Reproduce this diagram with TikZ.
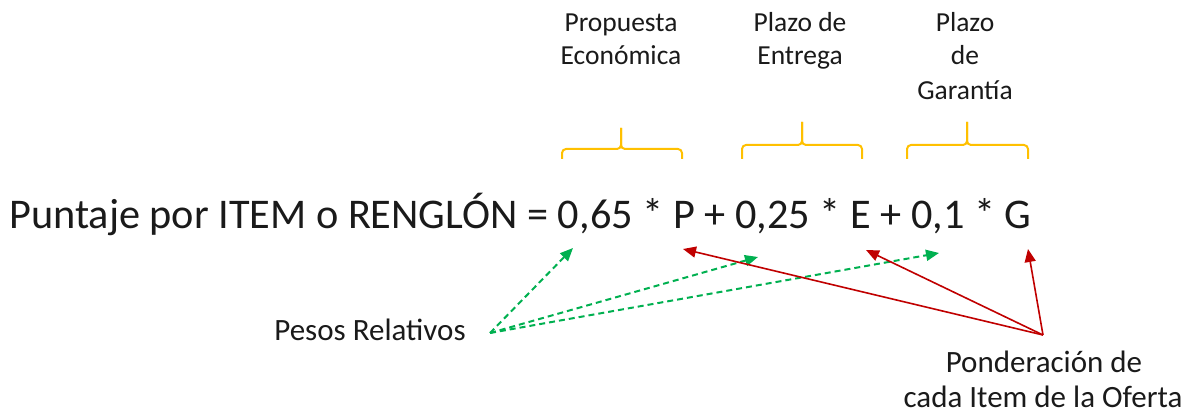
\documentclass[tikz,border=0pt]{standalone}
\usepackage{fontspec}
\setmainfont{Carlito}
\usetikzlibrary{arrows.meta}
\definecolor{gold}{HTML}{FFC000}
\definecolor{pgreen}{HTML}{00B050}
\definecolor{pred}{HTML}{C00000}
\definecolor{txt}{HTML}{1A1A1A}
\begin{document}
\begin{tikzpicture}[x=1pt,y=-1pt,
  toplbl/.style={inner sep=0pt, anchor=base, text=txt, font=\fontsize{27.5}{33}\selectfont},
  sidelbl/.style={inner sep=0pt, anchor=base, text=txt, font=\fontsize{31}{36}\selectfont},
  mainlbl/.style={inner sep=0pt, anchor=base west, text=txt, font=\fontsize{42.3}{49}\selectfont},
  bracepath/.style={draw=gold, line width=2pt, rounded corners=4pt},
  weightarrow/.style={draw=pgreen, line width=2pt, dash pattern=on 6pt off 4pt, -{Triangle[length=13pt,width=11pt]}},
  itemarrow/.style={draw=pred, line width=1.6pt, -{Triangle[length=13pt,width=11pt]}}]
\useasboundingbox (0,0) rectangle (1203,419);

% top labels
\node[toplbl] (pe1) at (621,32) {Propuesta};
\node[toplbl] (pe2) at (621,65) {Económica};
\node[toplbl] (pz1) at (800,32) {Plazo de};
\node[toplbl] (pz2) at (800,65) {Entrega};
\node[toplbl] (pg1) at (965,32) {Plazo};
\node[toplbl] (pg2) at (965,65) {de};
\node[toplbl] (pg3) at (965,100) {Garantía};

% braces
\path[bracepath] (562,159) -- (562,149) -- (621,149) -- (621,128);
\path[bracepath] (621,128) -- (621,149) -- (682,149) -- (682,159);
\path[bracepath] (742,159) -- (742,145) -- (802,145) -- (802,122);
\path[bracepath] (802,122) -- (802,145) -- (862,145) -- (862,159);
\path[bracepath] (907,159) -- (907,145) -- (967,145) -- (967,122);
\path[bracepath] (967,122) -- (967,145) -- (1028,145) -- (1028,159);

% main formula
\node[mainlbl] (formula) at (9,229) {Puntaje por ITEM o RENGLÓN = 0,65 * P + 0,25 * E + 0,1 * G};

% side labels
\node[sidelbl] (pesos) at (370,341) {Pesos Relativos};
\node[sidelbl] (pond1) at (1044,373) {Ponderación de};
\node[sidelbl] (pond2) at (1043,408) {cada Item de la Oferta};

% arrow ends
\coordinate (gorig) at (490,333);
\coordinate (rorig) at (1043,335);
\coordinate (g1) at (573,248);
\coordinate (g2) at (758,257);
\coordinate (g3) at (939,253);
\coordinate (r1) at (683,249);
\coordinate (r2) at (866,250);
\coordinate (r3) at (1028,249);

\draw[weightarrow] (gorig) -- (g1);
\draw[weightarrow] (gorig) -- (g2);
\draw[weightarrow] (gorig) -- (g3);
\draw[itemarrow] (rorig) -- (r1);
\draw[itemarrow] (rorig) -- (r2);
\draw[itemarrow] (rorig) -- (r3);
\end{tikzpicture}
\end{document}
